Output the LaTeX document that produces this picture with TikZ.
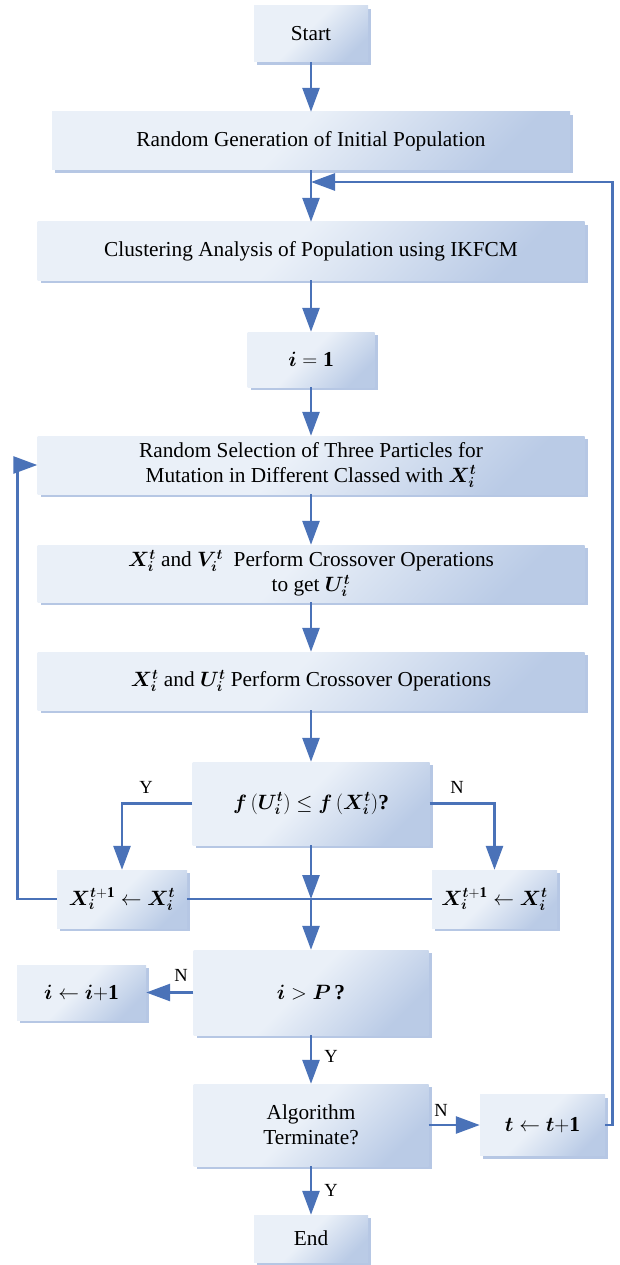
\documentclass[tikz,border=0pt]{standalone}
\usepackage{fontspec}
\setmainfont{Liberation Serif}
\usepackage{bm}
\usetikzlibrary{arrows.meta,shadows}
\definecolor{flowblue}{RGB}{74,114,184}
\definecolor{boxlight}{RGB}{234,240,248}
\definecolor{boxdark}{RGB}{186,203,230}
\definecolor{shadowcol}{RGB}{182,199,228}
\pgfdeclareverticalshading{boxshade}{100bp}{color(0bp)=(boxdark); color(25bp)=(boxdark); color(53bp)=(boxlight); color(100bp)=(boxlight)}
\newcommand\myXit{\ensuremath{\bm{X}_{\bm i}^{\bm t}}}
\newcommand\myVit{\ensuremath{\bm{V}_{\bm i}^{\bm t}}}
\newcommand\myUit{\ensuremath{\bm{U}_{\bm i}^{\bm t}}}
\newcommand\myXnext{\ensuremath{\bm{X}_{\bm i}^{\bm t\mathbf{+1}}}}
\tikzset{
  fbox/.style={inner sep=0pt, align=center,
    font=\fontsize{21.3}{25}\selectfont,
    shading=boxshade, shading angle=45,
    drop shadow={shadow xshift=3pt, shadow yshift=-3pt, fill=shadowcol, opacity=1}},
  fline/.style={draw=flowblue, line width=2.7pt},
  farr/.style={fline, -{Triangle[length=24pt,width=17pt]}},
  lab/.style={font=\fontsize{18.5}{20}\selectfont, inner sep=0pt}
}
\begin{document}
\begin{tikzpicture}[x=1pt,y=-1pt]
\useasboundingbox (0,0) rectangle (620,1265);
\node[fbox, minimum width=114pt, minimum height=56pt] (start) at (311,34) {Start};
\node[fbox, minimum width=518pt, minimum height=58pt] (gen) at (311,141) {Random Generation of Initial Population};
\node[fbox, minimum width=547pt, minimum height=58pt] (clus) at (311,251) {Clustering Analysis of Population using IKFCM};
\node[fbox, minimum width=127pt, minimum height=55pt] (ione) at (311,359.5) {$\bm{i}=\mathbf{1}$};
\node[fbox, minimum width=547pt, minimum height=58pt] (sel) at (311,465) {Random Selection of Three Particles for\\Mutation in Different Classed with \myXit};
\node[fbox, minimum width=547pt, minimum height=57pt] (xv) at (311,573.5) {\myXit{} and \myVit{}\ \ Perform Crossover Operations\\to get \myUit};
\node[fbox, minimum width=547pt, minimum height=58pt] (xu) at (311,681) {\myXit{} and \myUit{} Perform Crossover Operations};
\node[fbox, minimum width=237pt, minimum height=83pt] (cmp) at (311,803.5) {$\bm f\,(\bm{U}_{\bm i}^{\bm t})\leq\bm f\,(\bm{X}_{\bm i}^{\bm t})$\textbf{?}};
\node[fbox, minimum width=130pt, minimum height=58pt] (xl) at (122,899) {\myXnext${}\leftarrow{}$\myXit};
\node[fbox, minimum width=125pt, minimum height=58pt] (xr) at (494.5,899) {\myXnext${}\leftarrow{}$\myXit};
\node[fbox, minimum width=235pt, minimum height=85pt] (ip) at (311,992.5) {$\bm i>\bm P$\,\textbf{?}};
\node[fbox, minimum width=129pt, minimum height=55pt] (inc) at (81.5,992.5) {$\bm i\leftarrow\bm i{\mathbf{+}}\mathbf{1}$};
\node[fbox, minimum width=235pt, minimum height=82pt] (alg) at (311,1125) {Algorithm\\Terminate?};
\node[fbox, minimum width=125pt, minimum height=61pt] (tinc) at (542.5,1125) {$\bm t\leftarrow\bm t{\mathbf{+}}\mathbf{1}$};
\node[fbox, minimum width=114pt, minimum height=47pt] (end) at (311,1238.5) {End};
\coordinate (m1) at (311,182);
\coordinate (j) at (311,899);
\draw[farr] (start) -- (gen);
\draw[farr] (gen) -- (clus);
\draw[farr] (clus) -- (ione);
\draw[farr] (ione) -- (sel);
\draw[farr] (sel) -- (xv);
\draw[farr] (xv) -- (xu);
\draw[farr] (xu) -- (cmp);
\draw[farr] (cmp.west) -| (xl.north);
\draw[farr] (cmp.east) -| (xr.north);
\draw[farr] (cmp) -- (j);
\draw[fline] (xl.east) -- (xr.west);
\draw[farr] (j) -- (ip);
\draw[farr] (xl.west) -- ++(-39,0) |- (sel.west);
\draw[farr] (ip.west) -- (inc.east);
\draw[farr] (ip) -- (alg);
\draw[farr] (alg.east) -- (tinc.west);
\draw[farr] (alg) -- (end);
\draw[farr] (tinc.east) -- ++(7,0) |- (m1);
\node[lab] (ly1) at (146,787) {Y};
\node[lab] (ln1) at (457,787) {N};
\node[lab] (ln2) at (181,975) {N};
\node[lab] (ly2) at (331,1056) {Y};
\node[lab] (ln3) at (441,1110) {N};
\node[lab] (ly3) at (331,1190) {Y};
\end{tikzpicture}
\end{document}
